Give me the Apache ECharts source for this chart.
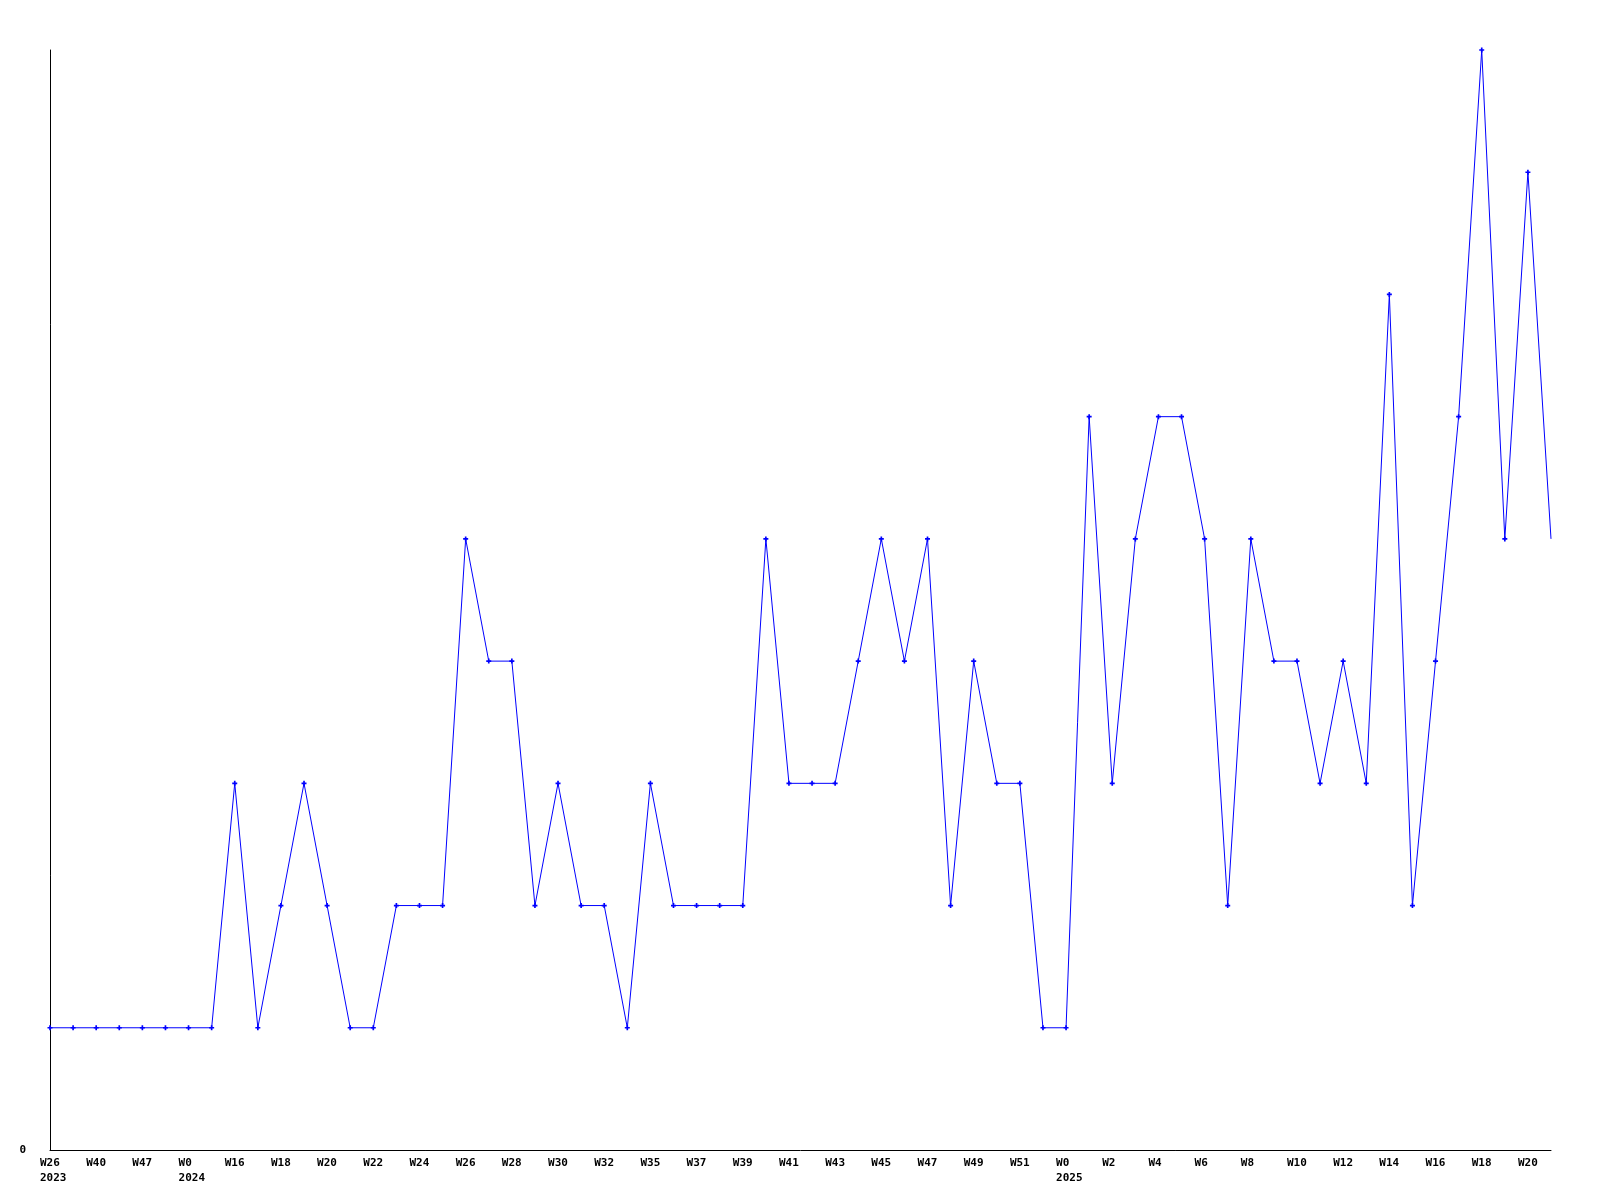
<!DOCTYPE html>
<html>
<head>
<meta charset="utf-8">
<script src="https://cdn.jsdelivr.net/npm/echarts@6/dist/echarts.min.js"></script>
<style>html,body{margin:0;padding:0;background:#fff}#c{width:1600px;height:1200px}</style>
</head>
<body>
<div id="c"></div>
<script>
const weeks = ['W26','W33','W40','W43','W47','W50','W0','W15','W16','W17','W18','W19','W20','W21','W22','W23','W24','W25','W26','W27','W28','W29','W30','W31','W32','W34','W35','W36','W37','W38','W39','W40','W41','W42','W43','W44','W45','W46','W47','W48','W49','W50','W51','W52','W0','W1','W2','W3','W4','W5','W6','W7','W8','W9','W10','W11','W12','W13','W14','W15','W16','W17','W18','W19','W20','W21'];
const values = [1,1,1,1,1,1,1,1,3,1,2,3,2,1,1,2,2,2,5,4,4,2,3,2,2,1,3,2,2,2,2,5,3,3,3,4,5,4,5,2,4,3,3,1,1,6,3,5,6,6,5,2,5,4,4,3,4,3,7,2,4,6,9,5,8,5];
const yearIndex = [0, 6, 44];
const yearText = ['2023', '2024', '2025'];
const yTicks = [0];

const chart = echarts.init(document.getElementById('c'), null, {renderer: 'canvas'});
const font = '"DejaVu Sans Mono", monospace';
const lastIdx = values.length - 1;
chart.setOption({
  animation: false,
  backgroundColor: '#ffffff',
  grid: {left: 50, right: 49, top: 50, bottom: 50},
  xAxis: {
    type: 'category',
    data: weeks,
    boundaryGap: false,
    axisLine: {lineStyle: {color: '#000', width: 1}},
    axisTick: {show: false},
    splitLine: {show: false},
    axisLabel: {
      interval: 1,
      margin: 6,
      color: '#000',
      fontFamily: font,
      fontWeight: 'bold',
      fontSize: 11,
      lineHeight: 15,
      rich: {
        a: {width: 20, align: 'left', fontFamily: font, fontWeight: 'bold', fontSize: 11, lineHeight: 15, color: '#000'}
      },
      formatter: function (v, i) {
        const k = yearIndex.indexOf(i);
        if (k >= 0) return '{a|' + v + '}\n{a|' + yearText[k] + '}';
        return '{a|' + v + '}';
      }
    }
  },
  yAxis: {
    type: 'value',
    min: 0,
    max: 9,
    interval: 1,
    axisLine: {show: true, lineStyle: {color: '#000', width: 1}},
    axisTick: {show: false},
    splitLine: {show: false},
    axisLabel: {
      margin: 24,
      color: '#000',
      fontFamily: font,
      fontWeight: 'bold',
      fontSize: 11,
      formatter: function (v) { return yTicks.indexOf(v) >= 0 ? String(v) : ''; }
    }
  },
  series: [{
    type: 'line',
    data: values.map((v, i) => i === lastIdx ? {value: v, symbol: 'none'} : v),
    showAllSymbol: true,
    symbol: 'path://M1,0H2V1H3V2H2V3H1V2H0V1H1Z',
    symbolSize: 5,
    lineStyle: {color: '#0000ff', width: 1},
    itemStyle: {color: '#0000ff'},
    emphasis: {disabled: true}
  }]
});
</script>
</body>
</html>
